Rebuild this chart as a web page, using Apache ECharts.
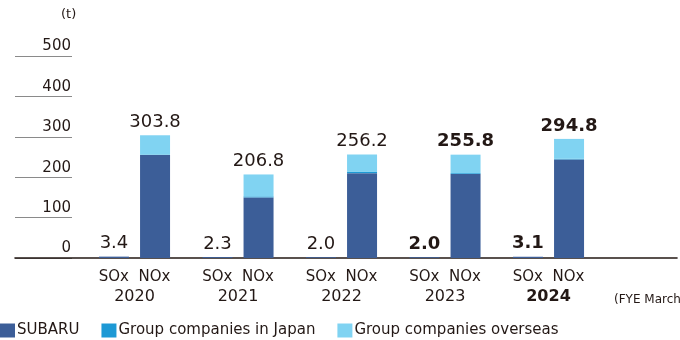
<!DOCTYPE html>
<html>
<head>
<meta charset="utf-8">
<script src="https://cdn.jsdelivr.net/npm/echarts@6/dist/echarts.min.js"></script>
<style>html,body{margin:0;padding:0;background:#fff;}#c{width:680px;height:340px;}</style>
</head>
<body>
<div id="c"></div>
<script>
const years = ['2020', '2021', '2022', '2023', '2024'];
const soxValues = [3.4, 2.3, 2.0, 2.0, 3.1];
const noxSubaru = [255.0, 150.0, 210.0, 208.0, 244.0];
const noxJapan = [1.0, 2.5, 3.0, 2.0, 1.5];
const noxOverseas = [47.8, 54.3, 43.2, 45.8, 49.3];
const noxTotals = [303.8, 206.8, 256.2, 255.8, 294.8];
const yTicks = [0, 100, 200, 300, 400, 500];

const BOLD_VALUE_IDX = [3, 4];
const BOLD_YEAR_IDX = [4];

const TXT = '#231815';
const FONT = 'DejaVu Sans';
const C_SUB = '#3c5e98';
const C_JP = '#1d99d5';
const C_OS = '#80d3f2';

function valLabel(i, text) {
  return {
    show: true, position: 'top', distance: 4,
    formatter: text,
    color: TXT, fontFamily: FONT, fontSize: 18,
    fontWeight: BOLD_VALUE_IDX.includes(i) ? 'bold' : 'normal'
  };
}

const chart = echarts.init(document.getElementById('c'), null, {renderer: 'canvas'});
chart.setOption({
  animation: false,
  textStyle: {fontFamily: FONT, color: TXT},
  title: [
    {text: '(t)', left: 56, top: 3, textStyle: {fontSize: 13, fontWeight: 'normal', color: TXT, fontFamily: FONT}},
    {text: '(FYE March)', left: 609, top: 289, textStyle: {fontSize: 12, fontWeight: 'normal', color: TXT, fontFamily: FONT}}
  ],
  legend: {
    data: ['SUBARU', 'Group companies in Japan', 'Group companies overseas'],
    left: 0, top: 323, padding: 0, itemWidth: 15, itemHeight: 14, itemGap: 22, icon: 'rect',
    textStyle: {fontSize: 15, color: TXT, fontFamily: FONT, padding: [0, 0, 0, -3]}
  },
  grid: [
    {left: 82.75, right: 79.75, top: 56, bottom: 82},
    {left: 15, width: 57, top: 56, bottom: 82},
    {left: 15, right: 3, top: 56, bottom: 82}
  ],
  xAxis: [
    {
      type: 'category', gridIndex: 0, data: years,
      axisLine: {show: false}, axisTick: {show: false},
      axisLabel: {
        margin: 9, interval: 0,
        formatter: (v, i) => '{s|SOx  NOx}\n' + (BOLD_YEAR_IDX.includes(i) ? '{b|' + v + '}' : '{y|' + v + '}'),
        rich: {
          s: {fontSize: 15, lineHeight: 20, color: TXT, fontFamily: FONT},
          y: {fontSize: 16, lineHeight: 20, color: TXT, fontFamily: FONT},
          b: {fontSize: 16, lineHeight: 20, color: TXT, fontFamily: FONT, fontWeight: 'bold'}
        }
      }
    },
    {type: 'value', gridIndex: 1, show: false},
    {
      type: 'value', gridIndex: 2, min: 0, max: 1,
      axisLine: {show: true, onZero: false, lineStyle: {color: TXT, width: 1.6}},
      axisTick: {show: false}, axisLabel: {show: false}, splitLine: {show: false}
    }
  ],
  yAxis: [
    {type: 'value', gridIndex: 0, min: 0, max: 500, interval: 100, show: false},
    {
      type: 'value', gridIndex: 1, min: 0, max: 500, interval: 100, position: 'right',
      axisLine: {show: false}, axisTick: {show: false},
      axisLabel: {
        inside: true, margin: 1, verticalAlign: 'bottom', padding: [0, 0, 2, 0],
        fontSize: 15, color: TXT, fontFamily: FONT,
        customValues: yTicks
      },
      splitLine: {show: true, lineStyle: {color: '#8a8a8a', width: 1}}
    },
    {type: 'value', gridIndex: 2, min: 0, max: 1, show: false}
  ],
  series: [
    {
      name: 'SUBARU', type: 'bar', stack: 'sox', xAxisIndex: 0, yAxisIndex: 0,
      barWidth: 30, barGap: '37%', itemStyle: {color: C_SUB},
      data: soxValues.map((v, i) => ({value: v, label: valLabel(i, v.toFixed(1))}))
    },
    {
      name: 'SUBARU', type: 'bar', stack: 'nox', xAxisIndex: 0, yAxisIndex: 0,
      barWidth: 30, barGap: '37%', itemStyle: {color: C_SUB}, data: noxSubaru
    },
    {
      name: 'Group companies in Japan', type: 'bar', stack: 'nox', xAxisIndex: 0, yAxisIndex: 0,
      barWidth: 30, barGap: '37%', itemStyle: {color: C_JP}, data: noxJapan
    },
    {
      name: 'Group companies overseas', type: 'bar', stack: 'nox', xAxisIndex: 0, yAxisIndex: 0,
      barWidth: 30, barGap: '37%', itemStyle: {color: C_OS},
      data: noxOverseas.map((v, i) => ({value: v, label: valLabel(i, noxTotals[i].toFixed(1))}))
    }
  ]
});
</script>
</body>
</html>
